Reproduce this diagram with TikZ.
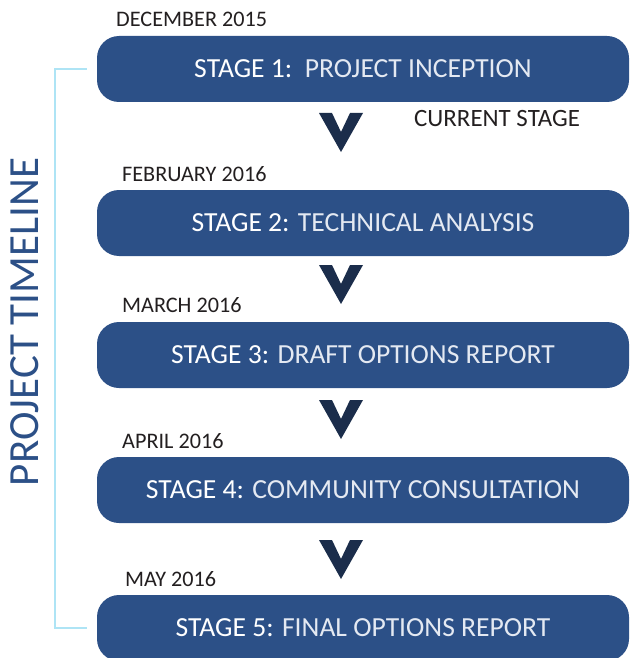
\documentclass[tikz,border=0pt]{standalone}
\usepackage{fontspec}
\setmainfont{Carlito}

\definecolor{stageblue}{HTML}{2C5087}
\definecolor{chevnavy}{HTML}{1B2D4B}
\definecolor{linecyan}{HTML}{AEE4F5}
\definecolor{datetext}{HTML}{231F20}
\definecolor{lighttext}{HTML}{E4E9F2}

\begin{document}
\begin{tikzpicture}[x=1pt,y=-1pt,
  stagebox/.style={fill=stageblue,rounded corners=22pt,minimum width=532pt,minimum height=66pt,
    inner sep=0pt,text=white,font=\fontsize{27.6}{27.6}\selectfont,text height=17.8pt,text depth=0pt},
  datelabel/.style={anchor=base west,inner sep=0pt,text=datetext,font=\fontsize{22.2}{22.2}\selectfont},
  chevron/.style={fill=chevnavy},
  bracket/.style={draw=linecyan,line width=2pt}]
\useasboundingbox (0,0) rectangle (629,658);

% stages
\node[stagebox] (s1) at (363,69) {STAGE 1:\ \ \textcolor{lighttext}{PROJECT INCEPTION}};
\node[stagebox] (s2) at (363,223) {STAGE 2: \textcolor{lighttext}{TECHNICAL ANALYSIS}};
\node[stagebox] (s3) at (363,355) {STAGE 3: \textcolor{lighttext}{DRAFT OPTIONS REPORT}};
\node[stagebox] (s4) at (363,490) {STAGE 4: \textcolor{lighttext}{COMMUNITY CONSULTATION}};
\node[stagebox] (s5) at (363,628) {STAGE 5: \textcolor{lighttext}{FINAL OPTIONS REPORT}};

% dates
\node[datelabel] (d1) at (116,27) {DECEMBER 2015};
\node[datelabel] (d2) at (122,181) {FEBRUARY 2016};
\node[datelabel] (d3) at (122,312) {MARCH 2016};
\node[datelabel] (d4) at (122,448) {APRIL 2016};
\node[datelabel] (d5) at (125,586) {MAY 2016};
\node[datelabel,font=\fontsize{24.9}{24.9}\selectfont] (now) at (414,127) {CURRENT STAGE};

% chevrons
\fill[chevron] (319,113) -- ++(13,0) -- ++(9,19) -- ++(9,-19) -- ++(13,0) -- ++(-22,39) -- cycle;
\fill[chevron] (319,265) -- ++(13,0) -- ++(9,19) -- ++(9,-19) -- ++(13,0) -- ++(-22,39) -- cycle;
\fill[chevron] (319,400) -- ++(13,0) -- ++(9,19) -- ++(9,-19) -- ++(13,0) -- ++(-22,39) -- cycle;
\fill[chevron] (319,540) -- ++(13,0) -- ++(9,19) -- ++(9,-19) -- ++(13,0) -- ++(-22,39) -- cycle;

% timeline bracket
\draw[bracket] ([xshift=-10pt]s1.west) -- ++(-32,0) |- ([xshift=-10pt]s5.west);
\node[rotate=90,inner sep=0pt,text=stageblue,font=\fontsize{43}{43}\selectfont,
  text height=27.7pt,text depth=0pt] (tl) at (25,322) {PROJECT TIMELINE};
\end{tikzpicture}
\end{document}
